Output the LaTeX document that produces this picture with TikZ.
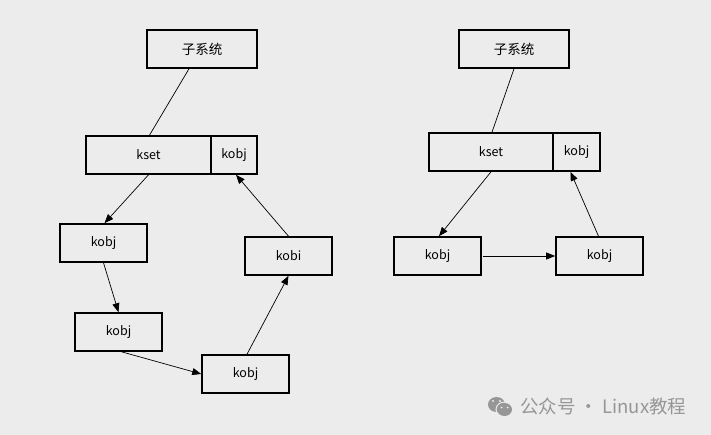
\documentclass[tikz,border=0pt]{standalone}
\usepackage{fontspec}
\setmainfont{Noto Sans CJK SC}
\usetikzlibrary{arrows.meta}
\definecolor{bg}{RGB}{236,236,236}
\definecolor{wm}{RGB}{150,150,150}
\tikzset{
  box/.style={draw=black, line width=1.6pt, inner sep=0pt, minimum height=38pt, font=\fontsize{12.5}{14}\selectfont},
  arr/.style={-{Triangle[length=9pt,width=7pt]}, line width=0.7pt},
  ln/.style={line width=0.7pt},
  cjkt/.style={font=\fontsize{13.5}{15}\selectfont}
}
\begin{document}
\begin{tikzpicture}[x=1pt,y=-1pt]
\fill[bg] (0,0) rectangle (711,435);
\useasboundingbox (0,0) rectangle (711,435);
% left diagram
\node[box,cjkt,minimum width=110pt] (subL) at (202,49) {子系统};
\node[box,minimum width=125pt] (ksetL) at (148.5,155) {kset};
\node[box,minimum width=46pt] (ksoL) at (234,155) {kobj};
\node[box,minimum width=87pt] (k1) at (103.5,243) {kobj};
\node[box,minimum width=87pt] (k2) at (118.5,332) {kobj};
\node[box,minimum width=87pt] (k3) at (245.5,374) {kobj};
\node[box,minimum width=87pt] (k4) at (288.5,256) {kobi};
\draw[ln] ([xshift=-13pt]subL.south) -- ([xshift=1pt]ksetL.north);
\draw[arr] (ksetL.south) -- ([xshift=1pt]k1.north);
\draw[arr] (k1.south) -- (k2.north);
\draw[arr] ([xshift=3pt]k2.south) -- (k3.west);
\draw[arr] ([xshift=1.5pt]k3.north) -- (k4.south);
\draw[arr] (k4.north) -- ([xshift=2pt]ksoL.south);
% right diagram
\node[box,cjkt,minimum width=110pt] (subR) at (514,49) {子系统};
\node[box,minimum width=124pt] (ksetR) at (491,152) {kset};
\node[box,minimum width=47pt] (ksoR) at (576.5,152) {kobj};
\node[box,minimum width=87pt] (r1) at (437.5,256) {kobj};
\node[box,minimum width=87pt] (r2) at (599.5,256) {kobj};
\draw[ln] (subR.south) -- ([xshift=1pt]ksetR.north);
\draw[arr] (ksetR.south) -- ([xshift=1.5pt]r1.north);
\draw[arr] ([xshift=1pt]r1.east) -- (r2.west);
\draw[arr] ([xshift=-1pt]r2.north) -- ([xshift=-6pt]ksoR.south);
% watermark
\fill[wm] (496.5,404.5) ellipse (8.5pt and 7.5pt);
\draw[bg, line width=1pt] (504.5,409.5) ellipse [x radius=8.5pt, y radius=7.5pt];
\fill[wm] (504.5,409.5) ellipse [x radius=7.5pt, y radius=6.5pt];
\fill[bg] (493,401) circle (1.2pt) (500,401) circle (1.2pt);
\fill[bg] (501.5,407.5) circle (1pt) (507.5,407.5) circle (1pt);
\node[anchor=west, text=wm, inner sep=0pt, font=\fontsize{18.5}{20}\selectfont] (wmt) at (520,406) {公众号 · Linux教程};
\end{tikzpicture}
\end{document}
